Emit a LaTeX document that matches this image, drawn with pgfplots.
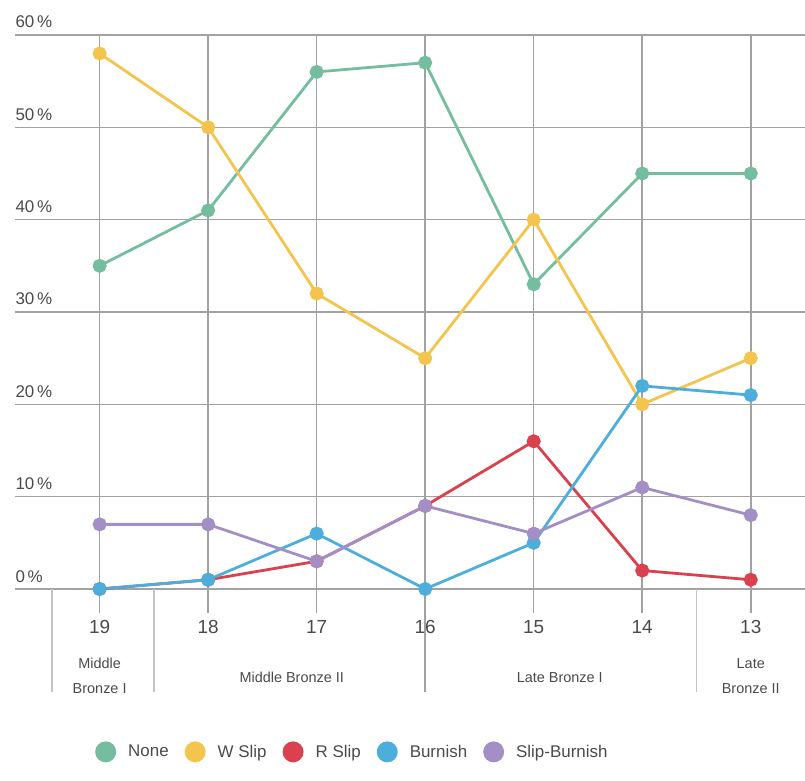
\documentclass[border=0pt]{standalone}
\usepackage{pgfplots}
\usepackage{pgfplotstable}
\pgfplotsset{compat=1.18}
\usepackage{fontspec}
\setmainfont{Liberation Sans}
\definecolor{cNone}{HTML}{74BE9F}
\definecolor{cWSlip}{HTML}{F3C54F}
\definecolor{cRSlip}{HTML}{D8414D}
\definecolor{cBurnish}{HTML}{4DAEDB}
\definecolor{cSlipBurnish}{HTML}{A38FC6}
\definecolor{txt}{HTML}{4A4A4A}
\definecolor{gridc}{HTML}{A2A2A2}
\definecolor{sepc}{HTML}{C4C4C4}
\pgfplotstableread{
x None WSlip RSlip Burnish SlipBurnish
0 35 58 0 0 7
1 41 50 1 1 7
2 56 32 3 6 3
3 57 25 9 0 9
4 33 40 16 5 6
5 45 20 2 22 11
6 45 25 1 21 8
}\data
\begin{document}
\begin{tikzpicture}[x=1bp,y=1bp]
\useasboundingbox (-15,-192) rectangle (790,589);
\begin{axis}[
  at={(0,0)}, anchor=south west,
  scale only axis, width=790bp, height=554bp,
  xmin=-0.78, xmax=6.5, ymin=0, ymax=60,
  clip=false,
  axis line style={draw=none},
  tick style={draw=none},
  xtick={0,...,6},
  xticklabels={19,18,17,16,15,14,13},
  xticklabel style={anchor=base, yshift=-44bp, font=\fontsize{19}{19}\selectfont, text=txt},
  ytick={0,10,...,60},
  yticklabel={\pgfmathprintnumber{\tick}\,\%},
  yticklabel style={anchor=base west, xshift=-3bp, yshift=7bp, font=\fontsize{17}{17}\selectfont, text=txt},
  /pgf/number format/assume math mode=true,
  xmajorgrids, ymajorgrids,
  grid style={gridc, line width=1.5bp},
  every axis plot/.append style={line width=2.8bp, mark=*, mark size=5.6bp, mark options={draw=white, line width=0.7bp}},
  legend columns=5,
  legend style={at={(0.427,-0.294)}, anchor=center, draw=none, fill=none,
    font=\fontsize{17}{17}\selectfont, text=txt,
    /tikz/every odd column/.append style={column sep=10bp},
    /tikz/every even column/.append style={column sep=14bp}},
  legend image code/.code={\fill[draw=none] (0bp,0bp) circle (10.5bp);},
]
% extensions of the grid below the axis
\foreach \i in {0,1,2,4,5,6} {\edef\tmp{\noexpand\draw[gridc, line width=1.5bp] (axis cs:\i,0) -- (axis cs:\i,-2.6);}\tmp}
\draw[gridc, line width=1.5bp] (axis cs:3,0) -- (axis cs:3,-11.2);
\draw[sepc, line width=1.4bp] (axis cs:-0.44,0) -- (axis cs:-0.44,-11.2);
\draw[sepc, line width=1.4bp] (axis cs:0.5,0) -- (axis cs:0.5,-11.2);
\draw[sepc, line width=1.4bp] (axis cs:5.5,0) -- (axis cs:5.5,-11.2);
\node[align=center, text=txt, font=\fontsize{14.5}{25}\selectfont] at (axis cs:0,-9.4) {Middle\\Bronze I};
\node[text=txt, font=\fontsize{14.5}{25}\selectfont] at (axis cs:1.77,-9.6) {Middle Bronze II};
\node[text=txt, font=\fontsize{14.5}{25}\selectfont] at (axis cs:4.24,-9.6) {Late Bronze I};
\node[align=center, text=txt, font=\fontsize{14.5}{25}\selectfont] at (axis cs:6,-9.4) {Late\\Bronze II};
\addplot[color=cNone, mark options={fill=cNone}] table[x=x,y=None] {\data};
\addplot[color=cWSlip, mark options={fill=cWSlip}] table[x=x,y=WSlip] {\data};
\addplot[color=cRSlip, mark options={fill=cRSlip}] table[x=x,y=RSlip] {\data};
\addplot[color=cBurnish, mark options={fill=cBurnish}] table[x=x,y=Burnish] {\data};
\addplot[color=cSlipBurnish, mark options={fill=cSlipBurnish}] table[x=x,y=SlipBurnish] {\data};
\legend{None, W Slip, R Slip, Burnish, Slip-Burnish}
\end{axis}
\end{tikzpicture}
\end{document}
